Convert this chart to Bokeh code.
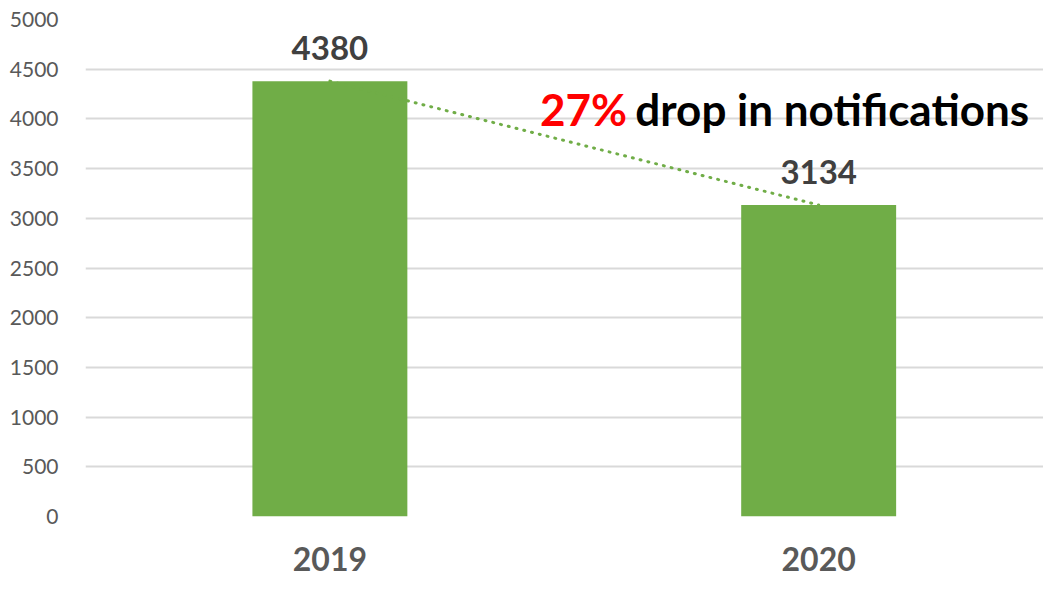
from bokeh.plotting import figure
from bokeh.models import Range1d, FixedTicker, ColumnDataSource
from bokeh.core.properties import value
from bokeh.embed import file_html
from bokeh.resources import INLINE

years = ["2019", "2020"]
positions = [0.5, 1.5]
notifications = [4380, 3134]
value_labels = ["4380", "3134"]
y_ticks = [0, 500, 1000, 1500, 2000, 2500, 3000, 3500, 4000, 4500, 5000]
pct_text = "27%"
rest_text = "drop in notifications"

GREEN = "#70AD47"
FONT = "Lato"

p = figure(width=1043, height=576, output_backend="svg", toolbar_location=None,
           x_range=Range1d(0, 1.96), y_range=Range1d(0, 5000),
           min_border_left=85, min_border_right=0, min_border_top=19, min_border_bottom=60)
p.outline_line_color = None
p.background_fill_color = "white"

src = ColumnDataSource(dict(x=positions, top=notifications, lab=value_labels))
p.vbar(x="x", top="top", width=0.317, bottom=0, source=src, fill_color=GREEN, line_color=None)

# dotted trend line between bar tops
p.line(x=positions, y=notifications, line_color=GREEN, line_width=3,
       line_dash="1 7", line_cap="round")

# value labels
p.text(x="x", y="top", text="lab", source=src, text_align="center", text_baseline="alphabetic",
       y_offset=-33, text_font=value(FONT), text_font_style="bold", text_font_size="33px",
       text_color="#404040")

# annotation
p.text(x=[0.93], y=[4100], text=[pct_text], text_align="left", text_baseline="alphabetic",
       text_font=value(FONT), text_font_style="bold", text_font_size="44px", text_color="#FF0000")
p.text(x=[1.125], y=[4100], text=[rest_text], text_align="left", text_baseline="alphabetic",
       text_font=value(FONT), text_font_style="bold", text_font_size="44px", text_color="#000000")

# axes
p.xaxis.ticker = FixedTicker(ticks=positions)
p.xaxis.major_label_overrides = {pos: y for pos, y in zip(positions, years)}
p.xaxis.major_label_text_font = FONT
p.xaxis.major_label_text_font_style = "bold"
p.xaxis.major_label_text_font_size = "32px"
p.xaxis.major_label_text_color = "#595959"
p.xaxis.major_label_standoff = 24
p.xaxis.axis_line_color = None
p.xaxis.major_tick_line_color = None
p.xaxis.minor_tick_line_color = None
p.xgrid.grid_line_color = None

p.yaxis.ticker = FixedTicker(ticks=y_ticks)
p.yaxis.major_label_text_font = FONT
p.yaxis.major_label_text_font_size = "21px"
p.yaxis.major_label_text_color = "#595959"
p.yaxis.major_label_standoff = 21
p.yaxis.axis_line_color = None
p.yaxis.major_tick_line_color = None
p.yaxis.minor_tick_line_color = None
p.ygrid.grid_line_color = "#D9D9D9"
p.ygrid.grid_line_width = 2
p.yaxis.formatter.use_scientific = False

open("out.html", "w").write(file_html(p, INLINE))
